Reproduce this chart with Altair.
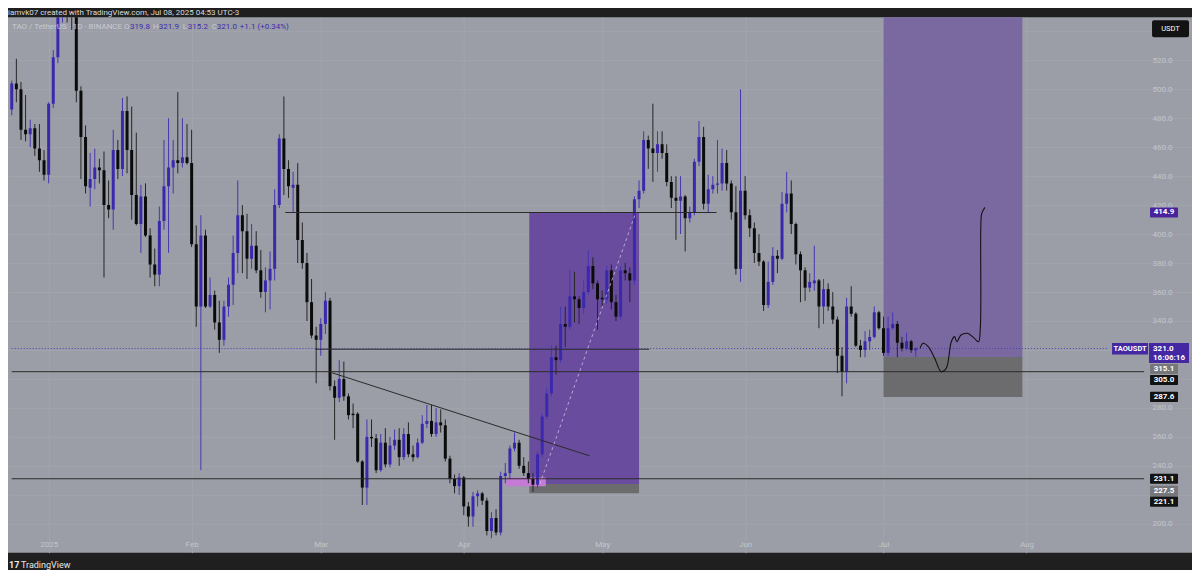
import altair as alt
import pandas as pd

# ---------------- data: daily TAO/USDT candles, first bar 2024-12-24 ----------------
FIRST_DAY = -8  # days from 2025-01-01

opens = [486, 504, 500, 472, 469, 473, 459, 451, 441, 490,
         522, 560, 570, 565, 560, 499, 467, 432, 438, 446,
         444, 420, 417, 458, 445, 485, 458, 427, 407, 426,
         399, 379, 372, 409, 433, 446, 451, 449, 453, 449,
         393, 350, 399, 350, 358, 339, 327, 350, 365, 387,
         413, 402, 383, 392, 375, 360, 368, 376, 420, 466,
         445, 432, 434, 396, 380, 353, 330, 327, 338, 354,
         295, 287, 300, 288, 276, 276, 243, 225, 260, 259,
         237, 256, 241, 254, 258, 246, 262, 248, 246, 256,
         269, 271, 262, 270, 268, 245, 231, 226, 232, 212,
         205, 219, 221, 216, 195, 204, 194, 233, 235, 252,
         256, 240, 235, 231, 227, 248, 274, 290, 315, 313,
         338, 336, 357, 355, 349, 360, 378, 366, 356, 355,
         375, 353, 343, 375, 373, 368, 424, 430, 465, 459,
         456, 462, 456, 436, 425, 423, 426, 411, 415, 450,
         467, 421, 431, 434, 435, 449, 435, 415, 376, 430,
         413, 404, 387, 381, 351, 367, 385, 383, 421, 428,
         407, 386, 375, 363, 366, 368, 350, 362, 350, 341,
         316, 305, 350, 345, 323, 320, 326, 329, 346, 335,
         318, 335, 338, 325, 321, 326, 319.8]
highs = [506, 521, 505, 496, 479, 476, 476, 458, 491, 527,
         575, 585, 590, 580, 566, 502, 475, 456, 459, 452,
         457, 437, 472, 465, 494, 495, 488, 470, 434, 435,
         404, 390, 419, 465, 480, 465, 498, 480, 476, 472,
         406, 413, 403, 370, 361, 354, 354, 370, 399, 437,
         420, 414, 407, 402, 389, 377, 388, 431, 469, 495,
         451, 443, 449, 408, 387, 369, 336, 342, 360, 356,
         299, 313, 312, 290, 283, 277, 244, 272, 272, 262,
         262, 266, 260, 265, 266, 266, 270, 254, 259, 275,
         282, 282, 280, 279, 272, 247, 234, 235, 233, 215,
         222, 223, 222, 218, 208, 210, 236, 242, 254, 263,
         258, 246, 243, 235, 250, 276, 294, 323, 323, 350,
         350, 375, 374, 357, 368, 389, 384, 368, 361, 378,
         379, 358, 378, 380, 377, 426, 437, 471, 468, 490,
         471, 471, 462, 440, 440, 440, 427, 419, 452, 478,
         474, 441, 440, 465, 459, 458, 437, 433, 500, 440,
         417, 408, 400, 382, 381, 391, 389, 429, 443, 437,
         408, 388, 377, 373, 392, 369, 369, 366, 360, 343,
         322, 356, 364, 346, 327, 333, 334, 350, 347, 343,
         343, 346, 340, 329, 332, 327, 321.9]
lows = [482, 491, 465, 464, 460, 454, 443, 437, 435, 487,
        518, 546, 546, 541, 491, 438, 428, 419, 431, 435,
        370, 411, 403, 438, 440, 442, 410, 406, 387, 398,
        370, 364, 364, 403, 387, 428, 442, 446, 448, 391,
        336, 237, 349, 349, 334, 318, 323, 343, 351, 373,
        373, 369, 376, 373, 356, 346, 348, 368, 418, 427,
        425, 415, 380, 376, 340, 328, 297, 316, 331, 292,
        258, 284, 285, 272, 266, 242, 213, 213, 253, 235,
        236, 239, 239, 251, 240, 244, 246, 243, 245, 255,
        266, 260, 260, 263, 243, 228, 221, 220, 206, 198,
        198, 212, 213, 192, 190, 192, 192, 228, 231, 250,
        238, 233, 228, 222, 225, 246, 272, 288, 303, 311,
        322, 334, 339, 338, 345, 358, 362, 334, 350, 352,
        348, 340, 341, 368, 353, 365, 418, 428, 445, 436,
        443, 452, 433, 418, 396, 400, 388, 408, 413, 447,
        417, 415, 428, 428, 430, 430, 410, 372, 367, 410,
        398, 380, 378, 347, 349, 365, 373, 382, 415, 400,
        379, 353, 354, 360, 361, 335, 338, 347, 338, 304,
        288, 297, 343, 322, 315, 315, 320, 328, 334, 316,
        316, 334, 315, 319, 320, 318, 315.2]
closes = [504, 500, 472, 469, 473, 459, 451, 441, 490, 522,
          560, 570, 565, 560, 499, 467, 433, 438, 446, 444,
          420, 417, 458, 445, 485, 458, 427, 407, 426, 399,
          379, 372, 409, 433, 446, 451, 449, 453, 449, 393,
          350, 399, 350, 358, 339, 327, 350, 365, 387, 413,
          402, 383, 392, 375, 360, 368, 376, 420, 466, 445,
          433, 434, 396, 380, 353, 330, 327, 338, 354, 295,
          287, 300, 288, 275, 275, 243, 225, 260, 259, 237,
          256, 241, 254, 258, 246, 262, 248, 246, 256, 269,
          271, 262, 270, 268, 245, 231, 226, 232, 212, 205,
          219, 221, 216, 195, 204, 194, 233, 235, 252, 256,
          240, 235, 231, 227, 248, 274, 290, 315, 313, 338,
          336, 357, 355, 349, 360, 378, 366, 355, 355, 375,
          353, 343, 375, 373, 368, 424, 430, 465, 459, 456,
          462, 456, 436, 425, 423, 426, 411, 415, 450, 467,
          421, 431, 434, 435, 449, 435, 415, 376, 430, 413,
          404, 387, 381, 351, 367, 385, 383, 421, 428, 407,
          386, 375, 363, 367, 368, 350, 362, 350, 341, 316,
          305, 350, 345, 323, 320, 326, 329, 346, 335, 318,
          335, 338, 325, 321, 326, 319.9, 321.0]

month_days = [0, 31, 59, 90, 120, 151, 181, 212]
month_labels = ["2025", "Feb", "Mar", "Apr", "May", "Jun", "Jul", "Aug"]
price_ticks = list(range(200, 541, 20))
hidden_ticks = [220, 300, 320, 540]   # covered by price tags in the original

# drawings (position tools, order block)
zone_x1 = [104.2, 104.2, 99.2, 181.0, 181.0]
zone_x2 = [128.0, 128.0, 107.8, 211.1, 211.1]
zone_lo = [227.5, 221.1, 226.0, 315.1, 287.6]
zone_hi = [414.9, 227.5, 232.0, 560.0, 315.1]
zone_col = ["#6a4c9f", "#6c6c6f", "#c57ad6", "#7a69a0", "#6c6c6f"]

hl_price = [414.9, 320.5, 305.0, 231.1]
hl_x1 = [51.3, 57.8, -8.0, -8.0]
hl_x2 = [144.8, 130.2, 237.5, 237.5]

trend_day = [61.4, 117.3]
trend_price = [304.3, 246.9]
path_day = [106.5, 127.3]
path_price = [227.5, 414.9]

sketch_day = [188.9, 189.6, 190.7, 192.1, 193.5, 194.6, 195.7, 196.4, 196.9,
              197.8, 199.2, 200.7, 201.6, 202.0, 202.1, 202.3, 203.0]
sketch_price = [321.1, 324.6, 322.3, 314.3, 305.0, 307.4, 325.7, 329.2, 325.7,
                330.3, 331.5, 328.0, 325.7, 336.1, 405.0, 414.3, 418.4]

lab_text = ["414.9", "315.1", "305.0", "287.6", "231.1", "227.5", "221.1"]
lab_pos = [414.9, 306.9, 299.3, 287.6, 231.1, 222.7, 215.3]
lab_bg = ["#4a229e", "#77777b", "#131313", "#131313", "#131313", "#77777b", "#131313"]

hdr_text = ["TAO / TetherUS · 1D · BINANCE", "O", "319.8", "H", "321.9", "L", "315.2",
            "C", "321.0", "+1.1 (+0.34%)"]
hdr_x = [4, 116, 122, 145, 151, 175, 180, 204, 209, 232]

assert len(opens) == len(highs) == len(lows) == len(closes)

# ---------------- styling ----------------
BG = "#1f1f1f"
PANE = "#9b9ea7"
BULL = "#3b29ad"
BEAR = "#0b0b0b"
BULL_W = "#4636b2"
BEAR_W = "#262626"
FAINT = "#c2c5cc"
DIM = "#c8cad0"
VAL = "#3d2bb0"
FONT = "Roboto"

W, H = 1185, 536
xs = alt.Scale(domain=[-7.73, 246.8], nice=False, zero=False)
ys = alt.Scale(domain=[180.0, 549.7], nice=False, zero=False)

label_expr = ""
for d, l in zip(month_days, month_labels):
    label_expr += f"datum.value == {d} ? '{l}' : "
label_expr += "''"

y_expr = " || ".join(f"datum.value == {v}" for v in hidden_ticks)
y_expr = f"({y_expr}) ? '' : format(datum.value, '.1f')"

x_axis = alt.Axis(values=month_days, labelExpr=label_expr, orient="bottom", offset=-12,
                  labelPadding=0, ticks=False, domain=False, title=None,
                  labelColor=FAINT, labelFontSize=8, labelFont=FONT, labelBaseline="top",
                  grid=True, gridColor="#a2a5ad", gridWidth=1)
y_axis = alt.Axis(values=price_ticks, labelExpr=y_expr, orient="right", offset=-40,
                  labelPadding=0, ticks=False, domain=False, title=None,
                  labelColor=FAINT, labelFontSize=8, labelFont=FONT, labelAlign="left",
                  grid=True, gridColor="#a2a5ad", gridWidth=1)


def X(field):
    return alt.X(field, scale=xs, axis=x_axis)


def Y(field):
    return alt.Y(field, scale=ys, axis=y_axis)


df = pd.DataFrame({
    "day": list(range(FIRST_DAY, FIRST_DAY + len(opens))),
    "open": opens, "high": highs, "low": lows, "close": closes,
})
bull_cond = "datum.close >= datum.open"

zones = pd.DataFrame({"x1": zone_x1, "x2": zone_x2, "lo": zone_lo, "hi": zone_hi, "c": zone_col})
zone_layer = alt.Chart(zones).mark_rect(clip=True).encode(
    x=X("x1:Q"), x2="x2:Q", y=Y("lo:Q"), y2="hi:Q",
    color=alt.Color("c:N", scale=None),
)

wicks = alt.Chart(df).mark_rule(strokeWidth=1, clip=True).encode(
    x=X("day:Q"), y=Y("low:Q"), y2="high:Q",
    color=alt.condition(bull_cond, alt.value(BULL_W), alt.value(BEAR_W)),
)
bodies = alt.Chart(df).mark_bar(size=3, clip=True).encode(
    x=X("day:Q"), y=Y("open:Q"), y2="close:Q",
    color=alt.condition(bull_cond, alt.value(BULL), alt.value(BEAR)),
)

hl = pd.DataFrame({"p": hl_price, "x1": hl_x1, "x2": hl_x2})
hlines = alt.Chart(hl).mark_rule(color="#2a2a2a", strokeWidth=1, clip=True).encode(
    x=X("x1:Q"), x2="x2:Q", y=Y("p:Q"),
)
last = pd.DataFrame({"p": [closes[-1]], "x1": [-8.0], "x2": [229.6]})
last_line = alt.Chart(last).mark_rule(color="#4b3db4", strokeWidth=1, strokeDash=[1, 2], clip=True).encode(
    x=X("x1:Q"), x2="x2:Q", y=Y("p:Q"),
)

trend = alt.Chart(pd.DataFrame({"d": trend_day, "p": trend_price})).mark_line(
    color="#2a2a2a", strokeWidth=1, clip=True).encode(x=X("d:Q"), y=Y("p:Q"))
path = alt.Chart(pd.DataFrame({"d": path_day, "p": path_price})).mark_line(
    color="#c9bde6", strokeWidth=1, strokeDash=[3, 3], opacity=0.8, clip=True).encode(
    x=X("d:Q"), y=Y("p:Q"))
sketch = alt.Chart(pd.DataFrame({"i": list(range(len(sketch_day))), "d": sketch_day, "p": sketch_price})).mark_line(
    color="#111111", strokeWidth=1.1, interpolate="catmull-rom", clip=True).encode(
    x=X("d:Q"), y=Y("p:Q"), order="i:Q")

# price-scale labels
labs = pd.DataFrame({"t": lab_text, "pos": lab_pos, "bg": lab_bg})
labs["lo"] = labs["pos"] - 3.5
labs["hi"] = labs["pos"] + 3.5
lab_boxes = alt.Chart(labs).mark_rect(cornerRadius=1).encode(
    x=alt.value(1143), x2=alt.value(1171), y=Y("lo:Q"), y2="hi:Q",
    color=alt.Color("bg:N", scale=None),
)
lab_texts = alt.Chart(labs).mark_text(color="white", fontSize=8, font=FONT, fontWeight="bold").encode(
    x=alt.value(1157), y=Y("pos:Q"), text="t:N")

cur = pd.DataFrame({"lo": [311.0], "hi": [324.8]})
cur_box = alt.Chart(cur).mark_rect(color="#4427a3").encode(
    x=alt.value(1142), x2=alt.value(1182), y=Y("lo:Q"), y2="hi:Q")
sym = pd.DataFrame({"lo": [316.9], "hi": [324.8]})
sym_box = alt.Chart(sym).mark_rect(color="#4427a3").encode(
    x=alt.value(1105), x2=alt.value(1141), y=Y("lo:Q"), y2="hi:Q")
cur_txt = pd.DataFrame({"t": ["321.0", "16:06:16"], "p": [321.0, 314.4]})
cur_texts = alt.Chart(cur_txt).mark_text(color="white", fontSize=8, font=FONT, fontWeight="bold",
                                         align="left").encode(
    x=alt.value(1146), y=Y("p:Q"), text="t:N")
sym_txt = pd.DataFrame({"t": ["TAOUSDT"], "p": [320.9]})
sym_texts = alt.Chart(sym_txt).mark_text(color="white", fontSize=7.5, font=FONT, fontWeight="bold",
                                         align="center").encode(
    x=alt.value(1123), y=Y("p:Q"), text="t:N")

usdt_box = alt.Chart(pd.DataFrame({"a": [0]})).mark_rect(color="#121212", cornerRadius=2).encode(
    x=alt.value(1145), x2=alt.value(1182), y=alt.value(3), y2=alt.value(20))
usdt_txt = alt.Chart(pd.DataFrame({"t": ["USDT"]})).mark_text(
    color="white", fontSize=7.5, font=FONT).encode(x=alt.value(1163.5), y=alt.value(11.5), text="t:N")


def label(txt, x, y, color, size=8, weight="normal"):
    return alt.Chart(pd.DataFrame({"t": [txt]})).mark_text(
        align="left", baseline="middle", fontSize=size, font=FONT, color=color, fontWeight=weight
    ).encode(x=alt.value(x), y=alt.value(y), text="t:N")


texts = [label("iamvk07 created with TradingView.com, Jul 08, 2025 04:53 UTC-3", 0, -4.5, "#dcdcdc")]
for t, x in zip(hdr_text, hdr_x):
    col = DIM if (t in ("O", "H", "L", "C") or t.startswith("TAO")) else VAL
    texts.append(label(t, x, 10, col))
texts.append(label("17", 1, 548, "#e8e8e8", 9, "bold"))
texts.append(label("TradingView", 13, 548, "#e8e8e8", 9))

chart = alt.layer(
    zone_layer, last_line, wicks, bodies, hlines, trend, path, sketch,
    lab_boxes, lab_texts, cur_box, sym_box, cur_texts, sym_texts, usdt_box, usdt_txt, *texts,
).properties(
    width=W, height=H,
    padding={"left": 0, "top": 9, "right": 0, "bottom": 17},
    autosize=alt.AutoSizeParams(type="none"),
    background=BG,
).configure_view(fill=PANE, stroke=None)

chart.save("out.html", embed_options={"renderer": "svg", "actions": False})
